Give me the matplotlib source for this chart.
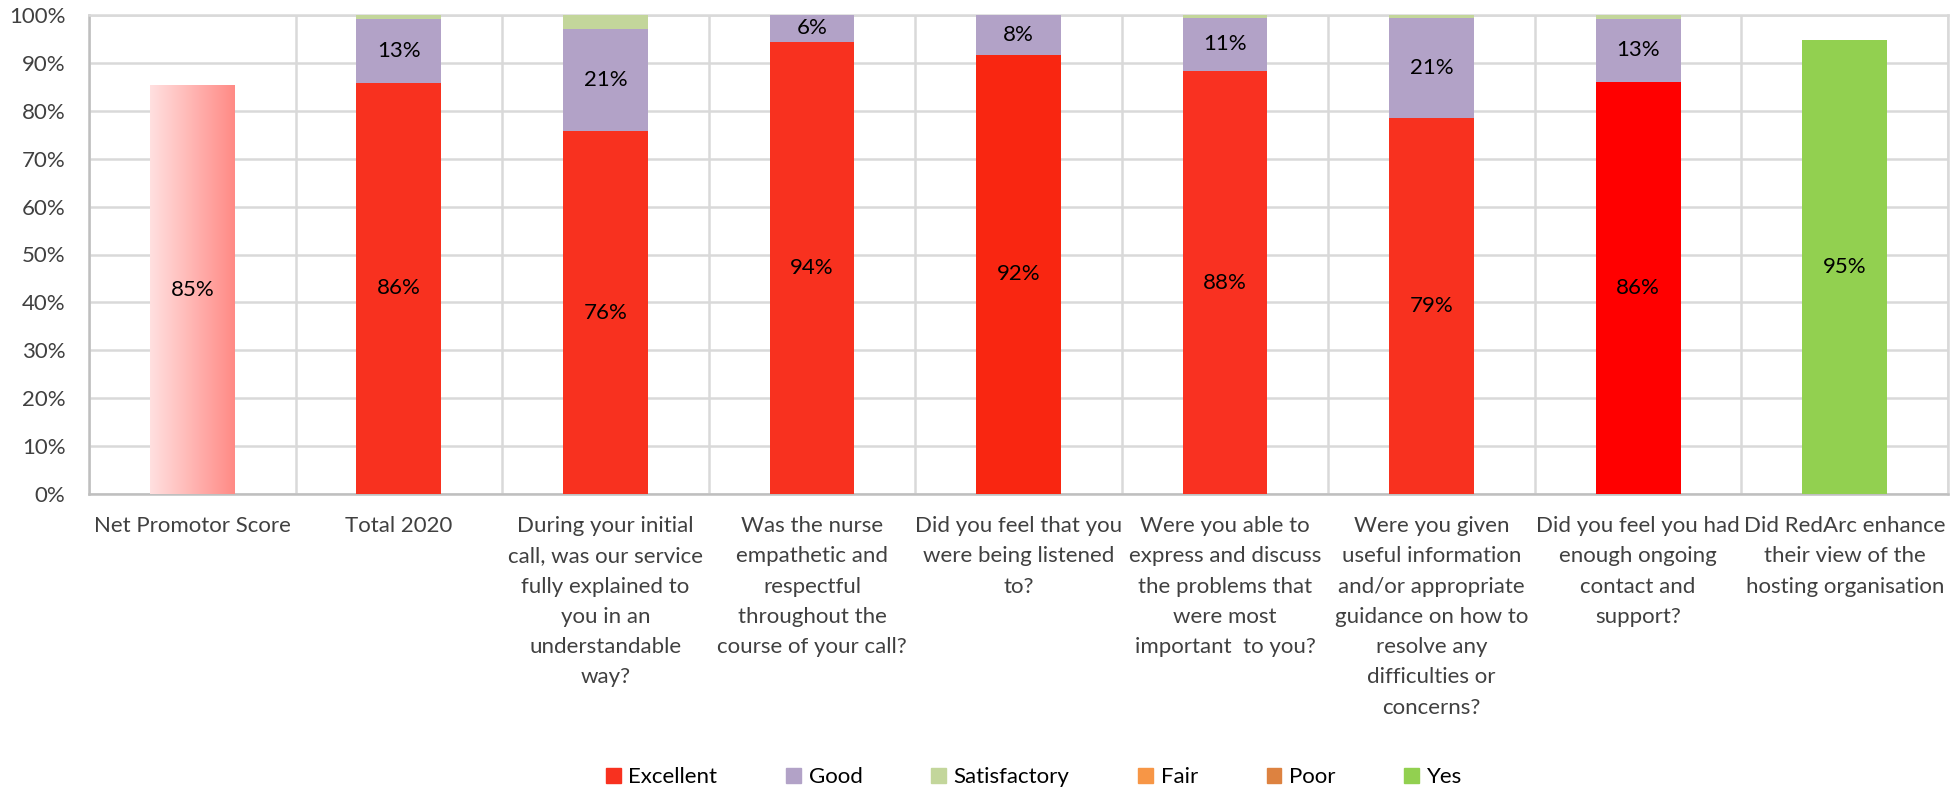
import numpy as np
import matplotlib
matplotlib.use("Agg")
import matplotlib.pyplot as plt
from matplotlib.patches import Patch
from matplotlib.colors import LinearSegmentedColormap

plt.rcParams['font.family'] = ['Lato', 'DejaVu Sans']

# data (percent)
categories = [
    "Net Promotor Score",
    "Total 2020",
    "During your initial\ncall, was our service\nfully explained to\nyou in an\nunderstandable\nway?",
    "Was the nurse\nempathetic and\nrespectful\nthroughout the\ncourse of your call?",
    "Did you feel that you\nwere being listened\nto?",
    "Were you able to\nexpress and discuss\nthe problems that\nwere most\nimportant  to you?",
    "Were you given\nuseful information\nand/or appropriate\nguidance on how to\nresolve any\ndifficulties or\nconcerns?",
    "Did you feel you had\nenough ongoing\ncontact and\nsupport?",
    "Did RedArc enhance\ntheir view of the\nhosting organisation",
]
nps = [85.3, 0, 0, 0, 0, 0, 0, 0, 0]
excellent = [0, 85.9, 75.7, 94.4, 91.7, 88.3, 78.6, 86.0, 0]
good = [0, 13.3, 21.4, 5.6, 8.3, 11.1, 20.8, 13.2, 0]
satisfactory = [0, 0.8, 2.9, 0, 0, 0.6, 0.6, 0.8, 0]
fair = [0, 0, 0, 0, 0, 0, 0, 0, 0]
poor = [0, 0, 0, 0, 0, 0, 0, 0, 0]
yes = [0, 0, 0, 0, 0, 0, 0, 0, 94.8]

exc_colors = ['#F8311F', '#F8311F', '#F8311F', '#F8311F', '#F92611',
              '#F93121', '#F8311F', '#FF0000', '#F8311F']
c_good = '#B2A2C7'
c_sat = '#C3D69B'
c_fair = '#F79646'
c_poor = '#DD8240'
c_yes = '#92D050'

fs = 16
tick_col = '#404040'

fig = plt.figure(figsize=(19.57, 7.90), dpi=100)
ax = fig.add_axes([89/1957, 1 - 494/790, (1948-89)/1957, (494-15)/790])

x = np.arange(len(categories))
w = 0.41

exc = np.array(excellent)
gd = np.array(good)
st = np.array(satisfactory)

ax.bar(x, exc, w, color=exc_colors, zorder=3)
ax.bar(x, gd, w, bottom=exc, color=c_good, zorder=3)
ax.bar(x, st, w, bottom=exc + gd, color=c_sat, zorder=3)
ax.bar(x, fair, w, bottom=exc + gd + st, color=c_fair, zorder=3)
ax.bar(x, poor, w, bottom=exc + gd + st + np.array(fair), color=c_poor, zorder=3)
ax.bar(x, yes, w, color=c_yes, zorder=3)

# NPS bar with a left-to-right gradient
nps_bars = ax.bar(x, nps, w, color='none', zorder=3)
grad = LinearSegmentedColormap.from_list('nps', ['#FFE0E0', '#FF8A85'])
for b in nps_bars:
    if b.get_height() > 0:
        ax.imshow(np.linspace(0, 1, 256).reshape(1, -1), cmap=grad, aspect='auto',
                  extent=(b.get_x(), b.get_x() + b.get_width(), 0, b.get_height()),
                  zorder=3)

# data labels
for i in range(len(categories)):
    if nps[i] > 0:
        ax.text(x[i], nps[i] / 2, f"{nps[i]:.0f}%", ha='center', va='center', fontsize=fs, zorder=5)
    if yes[i] > 0:
        ax.text(x[i], yes[i] / 2, f"{yes[i]:.0f}%", ha='center', va='center', fontsize=fs, zorder=5)
    if exc[i] > 0:
        ax.text(x[i], exc[i] / 2, f"{exc[i]:.0f}%", ha='center', va='center', fontsize=fs, zorder=5)
    if gd[i] > 0:
        ax.text(x[i], exc[i] + gd[i] / 2, f"{gd[i]:.0f}%", ha='center', va='center', fontsize=fs, zorder=5)

ax.set_xlim(-0.5, len(categories) - 0.5)
ax.set_ylim(0, 100)
ax.set_yticks(np.arange(0, 101, 10))
ax.set_yticklabels([f"{v}%" for v in range(0, 101, 10)])
ax.set_xticks(x)
ax.set_xticklabels(categories, linespacing=1.64, va='top')
ax.set_xticks(np.arange(-0.5, len(categories), 1), minor=True)
ax.tick_params(axis='x', which='both', length=0, pad=16, labelsize=fs, colors=tick_col)
ax.tick_params(axis='y', length=0, pad=17, labelsize=fs, colors=tick_col)

ax.grid(axis='y', which='major', color='#D9D9D9', linewidth=1.8, zorder=0)
ax.grid(axis='x', which='minor', color='#D9D9D9', linewidth=1.8, zorder=0)
ax.set_axisbelow(True)
for s in ['top', 'right']:
    ax.spines[s].set_color('#D9D9D9')
    ax.spines[s].set_linewidth(1.8)
for s in ['left', 'bottom']:
    ax.spines[s].set_color('#BFBFBF')
    ax.spines[s].set_linewidth(1.8)

handles = [Patch(color=exc_colors[1], label='Excellent'),
           Patch(color=c_good, label='Good'),
           Patch(color=c_sat, label='Satisfactory'),
           Patch(color=c_fair, label='Fair'),
           Patch(color=c_poor, label='Poor'),
           Patch(color=c_yes, label='Yes')]
fig.legend(handles=handles, loc='center', bbox_to_anchor=(1034/1957, 1 - 777/790), ncol=6,
           frameon=False, fontsize=fs, handlelength=0.65, handleheight=0.65,
           handletextpad=0.35, columnspacing=3.1)

fig.savefig('out.png', dpi=100)
